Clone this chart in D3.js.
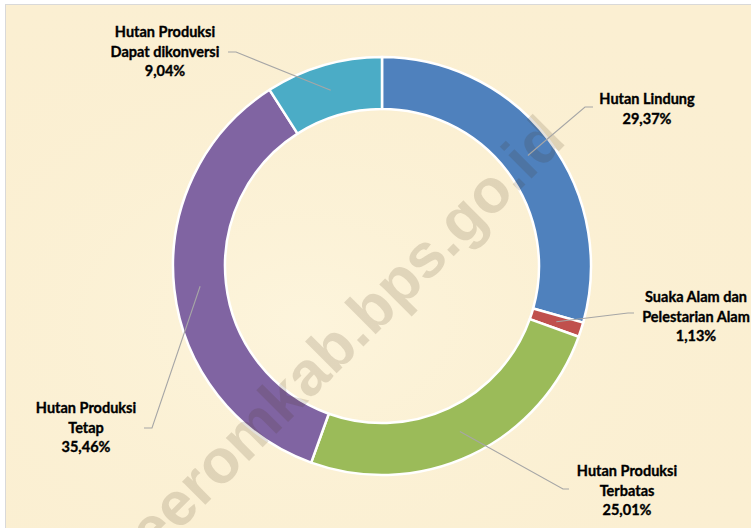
<!DOCTYPE html>
<html>
<head>
<meta charset="utf-8">
<script src="https://cdn.jsdelivr.net/npm/d3@7"></script>
<style>
  html, body { margin: 0; padding: 0; background: #ffffff; }
  svg { display: block; }
</style>
</head>
<body>
<svg id="chart" width="751" height="528"></svg>
<script>
// ---- data ----
const categories = [
  "Hutan Lindung",
  "Suaka Alam dan Pelestarian Alam",
  "Hutan Produksi Terbatas",
  "Hutan Produksi Tetap",
  "Hutan Produksi Dapat dikonversi"
];
const values = [29.37, 1.13, 25.01, 35.46, 9.04];
const valueLabels = ["29,37%", "1,13%", "25,01%", "35,46%", "9,04%"];
const labelLines = [
  ["Hutan Lindung"],
  ["Suaka Alam dan", "Pelestarian Alam"],
  ["Hutan Produksi", "Terbatas"],
  ["Hutan Produksi", "Tetap"],
  ["Hutan Produksi", "Dapat dikonversi"]
];
const colors = ["#4F81BD", "#C0504D", "#9BBB59", "#8064A2", "#4BACC6"];

// ---- layout ----
const W = 751, H = 528;
const cx = 382, cy = 266;
const rOuter = 209, rInner = 157;
// label layout: text centre x, first baseline y, leader elbow point, leader end point
const labelPos = [
  { x: 647, y: 104, elbow: [585, 107], end: [593, 107] },
  { x: 696, y: 302, elbow: [628, 313], end: [634, 313] },
  { x: 627, y: 476, elbow: [563, 489], end: [569, 489] },
  { x: 86,  y: 413, elbow: [152, 428], end: [144, 428] },
  { x: 165, y: 37,  elbow: [236, 52],  end: [228, 52] }
];

const svg = d3.select("#chart");

// panel background + border
svg.append("rect").attr("x", 5.5).attr("y", 4.5).attr("width", W).attr("height", H)
  .attr("fill", "#FBEFD2").attr("stroke", "#D9D9D9").attr("stroke-width", 1);

// subtle texture-like gradient
const defs = svg.append("defs");
const rg = defs.append("radialGradient").attr("id", "glow").attr("cx", "40%").attr("cy", "60%").attr("r", "70%");
rg.append("stop").attr("offset", "0%").attr("stop-color", "#FDF5DD").attr("stop-opacity", 0.9);
rg.append("stop").attr("offset", "100%").attr("stop-color", "#FAEFD0").attr("stop-opacity", 0.0);
svg.append("rect").attr("x", 6).attr("y", 5).attr("width", W).attr("height", H).attr("fill", "url(#glow)");

const g = svg.append("g").attr("transform", `translate(${cx},${cy})`);

const pie = d3.pie().sort(null).value(d => d)(values);
const arc = d3.arc().innerRadius(rInner).outerRadius(rOuter);
const midArc = d3.arc().innerRadius((rInner + rOuter) / 2).outerRadius((rInner + rOuter) / 2);

g.selectAll("path.slice").data(pie).enter().append("path")
  .attr("class", "slice")
  .attr("d", arc)
  .attr("fill", (d, i) => colors[i])
  .attr("stroke", "#ffffff")
  .attr("stroke-width", 2.5)
  .attr("stroke-linejoin", "round");

// watermark
svg.append("text")
  .attr("transform", "translate(129,581) rotate(-45)")
  .attr("font-family", "Liberation Sans, Arial, sans-serif")
  .attr("font-weight", "bold")
  .attr("font-size", 62)
  .attr("fill", "rgb(70,50,20)")
  .attr("fill-opacity", 0.15)
  .text("keeromkab.bps.go.id");

// leader lines
pie.forEach((d, i) => {
  const c = midArc.centroid(d);
  const p = labelPos[i];
  svg.append("polyline")
    .attr("points", [[cx + c[0], cy + c[1]], p.elbow, p.end].map(q => q.join(",")).join(" "))
    .attr("fill", "none")
    .attr("stroke", "#A6A6A6")
    .attr("stroke-width", 1.1);
});

// labels
pie.forEach((d, i) => {
  const p = labelPos[i];
  const lines = labelLines[i].concat([valueLabels[i]]);
  const t = svg.append("text")
    .attr("text-anchor", "middle")
    .attr("font-family", "Lato, 'Open Sans', sans-serif")
    .attr("font-weight", "bold")
    .attr("font-size", 14.5)
    .attr("fill", "#000000")
    .attr("stroke", "#000000")
    .attr("stroke-width", 0.35);
  lines.forEach((ln, k) => {
    t.append("tspan").attr("x", p.x).attr("y", p.y + k * 19.5).text(ln);
  });
});
</script>
</body>
</html>
